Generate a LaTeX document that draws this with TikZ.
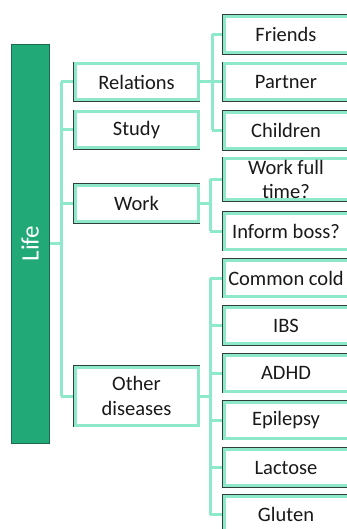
\documentclass[tikz,border=0pt]{standalone}
\usepackage{fontspec}
\setmainfont{Carlito}
\usetikzlibrary{backgrounds}
\definecolor{mint}{HTML}{8DE9C9}
\definecolor{edge}{HTML}{2F403A}
\definecolor{lifegreen}{HTML}{21A978}
\definecolor{lifeedge}{HTML}{1E6A4E}
\tikzset{
  leaf/.style={preaction={draw=edge, line width=4.6pt}, draw=mint, line width=3pt,
    fill=white, minimum height=36pt, inner sep=0pt, outer sep=0pt,
    font=\fontsize{20.5}{24.5}\selectfont, text=black!90, align=center},
  mid/.style={leaf, minimum width=123pt},
  tip/.style={leaf, minimum width=124pt},
  link/.style={draw=mint, line width=3pt},
}
\begin{document}
\begin{tikzpicture}[x=1pt,y=-1pt]
  \useasboundingbox (0,0) rectangle (347,529);

  % root bar, text running upwards
  \node[fill=lifegreen, draw=lifeedge, line width=0.9pt, minimum width=399pt,
        minimum height=38pt, inner sep=0pt, outer sep=0pt,
        text=white, font=\fontsize{25}{30}\selectfont, rotate=90] (life) at (30,243.5) {Life};

  % first level
  \node[mid] (rel) at (136.5,82) {Relations};
  \node[mid] (stu) at (136.5,130) {Study};
  \node[mid] (wrk) at (136.5,203.5) {Work};
  \node[mid, minimum height=58pt] (oth) at (136.5,396) {Other\\diseases};

  % second level
  \node[tip] (fri) at (286,34.5) {Friends};
  \node[tip] (par) at (286,82) {Partner};
  \node[tip] (chi) at (286,130.5) {Children};
  \node[tip, minimum height=41pt] (wft) at (286,179.5) {Work full\\time?};
  \node[tip] (inf) at (286,231) {Inform boss?};
  \node[tip] (cco) at (286,278) {Common cold};
  \node[tip] (ibs) at (286,325.5) {IBS};
  \node[tip] (adh) at (286,373) {ADHD};
  \node[tip] (epi) at (286,420) {Epilepsy};
  \node[tip] (lac) at (286,467.5) {Lactose};
  \node[tip] (glu) at (286,514.5) {Gluten};

  % branching points
  \coordinate (t) at (61,243.5);
  \coordinate (r) at (212,82);
  \coordinate (w) at (210,203.5);
  \coordinate (o) at (210,396);

  \begin{scope}[on background layer]
    % trunk from the root bar
    \draw[link] (life.south) -- (t);
    \draw[link] (t |- rel.west) -- (t |- oth.west);
    \foreach \n in {rel,stu,wrk,oth} \draw[link] (t |- \n.west) -- (\n.west);

    % relations
    \draw[link] (rel.east) -- (r);
    \draw[link] (r |- fri.west) -- (r |- chi.west);
    \foreach \n in {fri,par,chi} \draw[link] (r |- \n.west) -- (\n.west);

    % work
    \draw[link] (wrk.east) -- (w);
    \draw[link] (w |- wft.west) -- (w |- inf.west);
    \foreach \n in {wft,inf} \draw[link] (w |- \n.west) -- (\n.west);

    % other diseases
    \draw[link] (oth.east) -- (o);
    \draw[link] (o |- cco.west) -- (o |- glu.west);
    \foreach \n in {cco,ibs,adh,epi,lac,glu} \draw[link] (o |- \n.west) -- (\n.west);
  \end{scope}
\end{tikzpicture}
\end{document}
